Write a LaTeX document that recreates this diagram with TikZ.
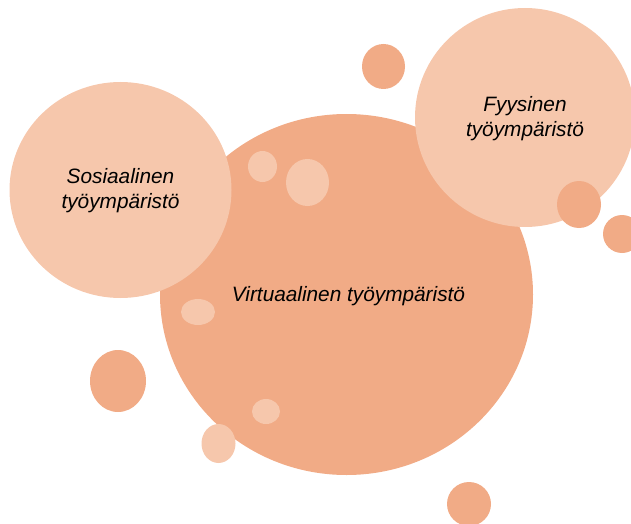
\documentclass[tikz,border=0pt]{standalone}
\usepackage{fontspec}
\setmainfont{Liberation Sans}
\usetikzlibrary{shapes.geometric}
\definecolor{bubdark}{HTML}{F1AB86}
\definecolor{bublight}{HTML}{F6C7AC}
\tikzset{
  bubble/.style={ellipse, inner sep=0pt, outer sep=0pt, align=center,
     font=\itshape\fontsize{20.8}{25}\selectfont, text=black},
  darkdot/.style={fill=bubdark},
  lightdot/.style={fill=bublight}
}
\begin{document}
\begin{tikzpicture}[x=1pt,y=-1pt]
\useasboundingbox (0,0) rectangle (631,524);
% main virtual circle
\node[bubble, fill=bubdark, minimum width=373pt, minimum height=361pt] (virt) at (346.5,294.5) {};
% social circle
\node[bubble, fill=bublight, minimum width=222pt, minimum height=216pt] (sos) at (120.5,190) {};
% physical circle
\node[bubble, fill=bublight, minimum width=220pt, minimum height=219pt] (fyy) at (525,117.5) {};
% small dots
\fill[darkdot] (383.5,66.5) ellipse [x radius=21.5, y radius=22.5];
\fill[darkdot] (579,204.5) ellipse [x radius=22, y radius=23.5];
\fill[darkdot] (622,234) ellipse [x radius=19, y radius=19];
\fill[darkdot] (118,381) ellipse [x radius=28, y radius=31];
\fill[darkdot] (469,504) ellipse [x radius=22, y radius=22];
\fill[lightdot] (262.5,166.5) ellipse [x radius=14.5, y radius=15.5];
\fill[lightdot] (307.5,182.5) ellipse [x radius=21.5, y radius=23.5];
\fill[lightdot] (198,312) ellipse [x radius=17, y radius=13];
\fill[lightdot] (266,411.5) ellipse [x radius=14, y radius=12.5];
\fill[lightdot] (218.5,443.5) ellipse [x radius=17, y radius=19.5];
% labels
\node[bubble] (virtlabel) at (348.5,296) {Virtuaalinen työympäristö};
\node[bubble] (soslabel) at (120.5,190.5) {Sosiaalinen\\työympäristö};
\node[bubble] (fyylabel) at (525,118.5) {Fyysinen\\työympäristö};
\end{tikzpicture}
\end{document}
